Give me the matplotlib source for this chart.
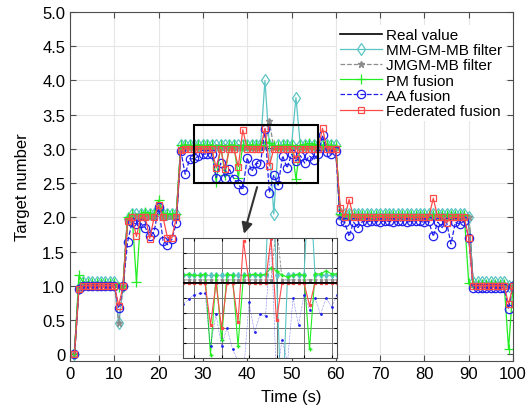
import numpy as np
import matplotlib
matplotlib.use("Agg")
import matplotlib.pyplot as plt
from matplotlib.patches import Rectangle

plt.rcParams['font.family'] = ['Liberation Sans', 'DejaVu Sans']

time = np.arange(1, 101)

real_value = [
    0, 1, 1, 1, 1, 1, 1, 1, 1, 1,
    1, 1, 2, 2, 2, 2, 2, 2, 2, 2,
    2, 2, 2, 2, 3, 3, 3, 3, 3, 3,
    3, 3, 3, 3, 3, 3, 3, 3, 3, 3,
    3, 3, 3, 3, 3, 3, 3, 3, 3, 3,
    3, 3, 3, 3, 3, 3, 3, 3, 3, 3,
    2, 2, 2, 2, 2, 2, 2, 2, 2, 2,
    2, 2, 2, 2, 2, 2, 2, 2, 2, 2,
    2, 2, 2, 2, 2, 2, 2, 2, 2, 2,
    1, 1, 1, 1, 1, 1, 1, 1, 1, 1,
]

mm_gm_mb = [
    0.00, 0.97, 1.05, 1.05, 1.05, 1.05, 1.05, 1.05, 1.05, 1.05,
    0.45, 1.00, 1.98, 2.05, 2.05, 2.05, 2.05, 2.05, 2.05, 2.15,
    2.05, 2.05, 2.05, 2.05, 3.05, 3.05, 3.05, 3.05, 3.05, 3.05,
    3.05, 3.05, 3.05, 3.05, 3.05, 3.05, 3.05, 3.05, 3.05, 3.05,
    3.05, 3.05, 3.05, 4.00, 3.05, 2.05, 3.05, 3.05, 3.05, 3.05,
    3.75, 3.05, 3.05, 3.05, 3.05, 3.05, 3.05, 3.05, 3.05, 3.05,
    2.06, 2.05, 2.05, 2.05, 2.05, 2.05, 2.05, 2.05, 2.05, 2.05,
    2.05, 2.05, 2.05, 2.05, 2.05, 2.05, 2.05, 2.05, 2.05, 2.05,
    2.05, 2.05, 2.05, 2.05, 2.05, 2.05, 2.05, 2.05, 2.05, 2.00,
    1.05, 1.05, 1.05, 1.05, 1.05, 1.05, 1.05, 1.05, 1.00, 1.00,
]

jmgm_mb = [
    0.00, 0.97, 1.02, 1.02, 1.02, 1.02, 1.02, 1.02, 1.02, 1.02,
    0.45, 1.00, 1.97, 2.02, 2.02, 2.02, 2.02, 2.02, 2.02, 2.15,
    2.02, 2.02, 2.02, 2.02, 3.00, 3.02, 3.02, 3.02, 3.02, 3.02,
    3.02, 3.02, 3.02, 3.02, 3.02, 3.02, 3.02, 3.02, 3.02, 3.02,
    3.02, 3.02, 3.02, 3.02, 3.40, 3.02, 3.02, 3.02, 3.02, 3.02,
    3.02, 3.02, 3.02, 3.02, 3.02, 3.02, 3.02, 3.02, 3.02, 3.02,
    2.02, 2.02, 2.02, 2.02, 2.02, 2.02, 2.02, 2.02, 2.02, 2.02,
    2.02, 2.02, 2.02, 2.02, 2.02, 2.02, 2.02, 2.02, 2.02, 2.02,
    2.02, 2.02, 2.02, 2.02, 2.02, 2.02, 2.02, 2.02, 2.02, 2.00,
    1.02, 1.02, 1.02, 1.02, 1.02, 1.02, 1.02, 1.02, 1.00, 1.00,
]

pm_fusion = [
    0.00, 1.15, 1.05, 1.04, 1.04, 1.04, 1.04, 1.04, 1.04, 1.04,
    0.98, 1.00, 2.00, 2.05, 1.05, 2.05, 2.08, 2.05, 2.05, 2.25,
    2.05, 2.05, 2.05, 2.05, 3.05, 3.06, 3.05, 3.05, 3.06, 3.05,
    3.05, 3.06, 2.52, 3.05, 2.62, 3.06, 3.05, 2.58, 3.05, 3.05,
    3.06, 3.05, 3.06, 3.10, 3.08, 3.05, 3.04, 3.05, 3.06, 3.05,
    2.56, 3.06, 3.06, 3.08, 3.06, 3.06, 3.05, 3.06, 3.05, 3.04,
    2.05, 2.03, 2.03, 2.03, 2.03, 2.03, 2.03, 2.03, 2.03, 2.03,
    2.03, 2.03, 2.03, 2.03, 2.03, 2.03, 2.03, 2.03, 2.03, 2.03,
    2.03, 2.03, 2.03, 2.03, 2.03, 2.03, 2.03, 2.03, 2.03, 1.04,
    1.03, 1.03, 1.03, 1.03, 1.03, 1.03, 1.03, 1.03, 0.07, 1.00,
]

aa_fusion = [
    0.00, 0.95, 0.99, 1.00, 1.00, 1.00, 1.00, 1.00, 1.00, 1.00,
    0.67, 1.00, 1.64, 1.93, 1.90, 1.91, 1.85, 1.72, 1.79, 2.15,
    1.66, 1.60, 1.68, 1.92, 2.97, 2.63, 2.85, 2.86, 2.89, 2.92,
    2.93, 2.93, 2.58, 2.79, 2.58, 2.70, 2.56, 2.48, 2.40, 2.87,
    2.67, 2.79, 2.78, 3.29, 2.36, 2.62, 2.47, 2.90, 2.72, 2.92,
    2.82, 2.90, 2.79, 2.90, 2.84, 2.92, 3.20, 2.95, 2.92, 2.97,
    1.94, 1.93, 1.72, 1.93, 1.85, 1.94, 1.93, 1.95, 1.94, 1.93,
    1.95, 1.94, 1.93, 1.94, 1.95, 1.93, 1.94, 1.95, 1.94, 1.93,
    1.94, 1.72, 1.93, 1.85, 1.93, 1.61, 1.93, 1.90, 1.95, 1.70,
    0.97, 0.97, 0.97, 0.97, 0.97, 0.97, 0.97, 0.97, 0.66, 1.00,
]

federated = [
    0.00, 0.95, 1.00, 1.00, 1.00, 1.00, 1.00, 1.00, 1.00, 1.00,
    0.71, 1.00, 1.95, 2.00, 1.72, 2.00, 2.00, 1.69, 2.00, 2.18,
    2.00, 1.70, 1.70, 2.00, 2.98, 3.00, 3.00, 3.00, 3.00, 3.00,
    3.00, 3.00, 2.72, 3.00, 2.70, 3.00, 3.00, 2.74, 3.28, 3.00,
    3.00, 3.00, 3.00, 3.30, 2.75, 3.00, 3.00, 3.00, 3.00, 3.00,
    2.85, 3.00, 3.00, 3.00, 3.00, 3.00, 3.30, 3.00, 3.00, 3.00,
    2.14, 2.00, 2.26, 2.00, 2.00, 2.00, 2.00, 2.00, 2.00, 2.00,
    2.00, 2.00, 2.00, 2.00, 2.00, 2.00, 2.00, 2.00, 2.00, 2.00,
    2.00, 2.28, 2.00, 2.00, 1.92, 2.00, 2.00, 2.00, 2.00, 1.70,
    1.00, 1.00, 1.00, 1.00, 1.00, 1.00, 1.00, 1.00, 0.73, 1.00,
]

labels = ['Real value', 'MM-GM-MB filter', 'JMGM-MB filter',
          'PM fusion', 'AA fusion', 'Federated fusion']

c_cyan = '#5cc4c4'
c_gray = '#8c8c8c'
c_green = '#22ee22'
c_blue = '#2020ee'
c_red = '#ff4a4a'

fig = plt.figure(figsize=(5.32, 4.14), dpi=100)
ax = fig.add_axes([0.1316, 0.1256, 0.8327, 0.843])

ax.plot(time, real_value, color='k', lw=1.2, label=labels[0], zorder=1.5)
ax.plot(time, mm_gm_mb, color=c_cyan, lw=0.9, marker='d', ms=6.5,
        mfc='none', mew=0.9, label=labels[1], zorder=2)
ax.plot(time, jmgm_mb, color=c_gray, lw=0.9, ls='--', marker='*', ms=4.5,
        label=labels[2], zorder=2)
ax.plot(time, pm_fusion, color=c_green, lw=0.9, marker='+', ms=7,
        mew=0.9, label=labels[3], zorder=2)
ax.plot(time, aa_fusion, color=c_blue, lw=0.9, ls='--', marker='o', ms=6,
        mfc='none', mew=0.9, label=labels[4], zorder=2)
ax.plot(time, federated, color=c_red, lw=0.9, marker='s', ms=5,
        mfc='none', mew=0.9, label=labels[5], zorder=2)

ax.set_xlim(0, 100)
ax.set_ylim(-0.1, 5)
ax.set_xticks(np.arange(0, 101, 10))
ax.set_yticks(np.arange(0, 5.01, 0.5))
ax.set_yticklabels(['0'] + ['%.1f' % v for v in np.arange(0.5, 5.01, 0.5)])
ax.tick_params(direction='in', top=True, right=True, labelsize=12,
               length=4, color='0.3')
ax.grid(True, color='0.9', lw=0.8)
for s in ax.spines.values():
    s.set_color('0.3')
ax.set_xlabel('Time (s)', fontsize=12, labelpad=6)
ax.set_ylabel('Target number', fontsize=12, labelpad=9)

leg = ax.legend(loc='upper right', bbox_to_anchor=(1.0, 0.985), fontsize=11,
                frameon=True, fancybox=False, edgecolor='none',
                facecolor='white', framealpha=1, handlelength=2.7,
                labelspacing=0.08, borderpad=0.2, handletextpad=0.3)

# zoom box and arrow
ax.add_patch(Rectangle((28, 2.5), 28, 0.85, fill=False, ec='k', lw=1.5,
                       zorder=5))
ax.annotate('', xy=(39.1, 1.72), xytext=(42.4, 2.48),
            arrowprops=dict(arrowstyle='-|>', color='#333333', lw=1.5,
                            mutation_scale=16), zorder=6)

# inset
axin = fig.add_axes([0.344, 0.133, 0.2895, 0.29])
axin.plot(time, real_value, color='k', lw=1.3, zorder=3)
axin.plot(time, mm_gm_mb, color=c_cyan, lw=0.8, marker='d', ms=3)
axin.plot(time, jmgm_mb, color=c_gray, lw=0.6, ls='--', marker='*', ms=2)
axin.plot(time, pm_fusion, color=c_green, lw=0.8, marker='+', ms=3)
axin.plot(time, aa_fusion, color=c_blue, lw=0.4, ls=':', marker='.', ms=2)
axin.plot(time, federated, color=c_red, lw=0.8, marker='s', ms=2)
axin.set_xlim(28, 56)
axin.set_ylim(2.5, 3.3)
axin.set_xticks([30, 35, 40, 45, 50, 55])
axin.set_yticks([2.6, 2.7, 2.8, 2.9, 3.0, 3.1, 3.2])
axin.tick_params(labelbottom=False, labelleft=False, direction='in',
                 top=True, right=True, length=2)
axin.grid(True, color='0.45', lw=0.7)
for s in axin.spines.values():
    s.set_color('0.3')

fig.savefig('out.png', dpi=100)
